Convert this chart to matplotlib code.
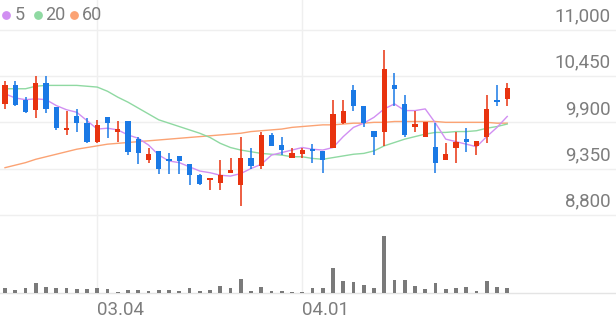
import numpy as np
import matplotlib.pyplot as plt
from matplotlib.lines import Line2D

# daily candles (won)
opens = [10120, 10340, 10170, 10050, 10370, 10080, 9810, 9970, 9890, 9660,
         9960, 9790, 9920, 9700, 9450, 9560, 9460, 9500, 9400, 9270,
         9210, 9180, 9300, 9150, 9480, 9380, 9750, 9630, 9480, 9520,
         9580, 9560, 9590, 9890, 10290, 10090, 9800, 9790, 10350, 10120,
         9850, 9720, 9610, 9450, 9590, 9700, 9620, 9720, 10170, 10180]
highs = [10390, 10390, 10200, 10450, 10450, 10080, 10040, 10060, 9950, 9930,
         9960, 9920, 9920, 9730, 9590, 9560, 9540, 9500, 9400, 9280,
         9240, 9450, 9470, 9730, 9590, 9790, 9770, 9720, 9590, 9600,
         9640, 9560, 10170, 10170, 10350, 10090, 9800, 10760, 10490, 10230,
         10040, 9900, 9890, 9650, 9790, 9830, 9650, 10230, 10340, 10370]
lows = [10060, 10100, 10010, 9950, 10010, 9810, 9750, 9790, 9650, 9650,
        9710, 9670, 9510, 9400, 9410, 9290, 9290, 9280, 9150, 9150,
        9090, 9090, 9300, 8900, 9350, 9340, 9620, 9510, 9480, 9480,
        9420, 9300, 9590, 9880, 10040, 9850, 9510, 9620, 10100, 9730,
        9790, 9720, 9300, 9450, 9420, 9550, 9510, 9650, 10090, 10090]
closes = [10340, 10110, 10020, 10370, 10060, 9830, 9820, 9890, 9660, 9870,
          9890, 9810, 9550, 9540, 9520, 9340, 9440, 9440, 9270, 9160,
          9230, 9270, 9330, 9470, 9380, 9750, 9620, 9570, 9530, 9570,
          9560, 9450, 10000, 10040, 10090, 9890, 9720, 10540, 10300, 9750,
          9870, 9900, 9420, 9520, 9670, 9670, 9680, 10060, 10140, 10310]
volumes = [53, 37, 53, 100, 60, 50, 50, 43, 43, 50,
           43, 10, 37, 37, 27, 33, 33, 27, 53, 27,
           33, 70, 50, 140, 20, 60, 27, 27, 13, 13,
           57, 50, 250, 127, 113, 83, 50, 577, 133, 133,
           73, 40, 100, 40, 57, 67, 27, 127, 67, 50]

ma5 = [10240, 10190, 10170, 10180, 10170, 10100, 10050, 10020, 9920, 9820,
       9830, 9810, 9750, 9710, 9630, 9510, 9440, 9420, 9370, 9320,
       9300, 9270, 9260, 9290, 9350, 9400, 9510, 9540, 9570, 9600,
       9580, 9570, 9600, 9730, 9840, 9890, 9960, 10060, 10120, 10040,
       10040, 10060, 9890, 9700, 9670, 9640, 9610, 9730, 9840, 9970]
ma20 = [10300, 10300, 10300, 10330, 10340, 10340, 10340, 10340, 10330, 10320,
        10270, 10200, 10140, 10070, 10000, 9930, 9890, 9850, 9810, 9770,
        9720, 9650, 9600, 9570, 9550, 9530, 9520, 9510, 9490, 9490,
        9470, 9460, 9480, 9500, 9520, 9530, 9560, 9620, 9660, 9700,
        9730, 9760, 9780, 9780, 9790, 9790, 9800, 9830, 9850, 9880]
ma60 = [9360, 9390, 9420, 9460, 9490, 9520, 9550, 9580, 9600, 9620,
        9640, 9650, 9660, 9670, 9680, 9690, 9700, 9710, 9720, 9730,
        9740, 9750, 9760, 9770, 9790, 9800, 9810, 9820, 9840, 9850,
        9860, 9870, 9870, 9880, 9890, 9890, 9900, 9900, 9910, 9910,
        9910, 9910, 9910, 9900, 9900, 9900, 9900, 9900, 9890, 9890]

price_ticks = [8800, 9350, 9900, 10450, 11000]
date_ticks = [9, 29]
date_labels = ['03.04', '04.01']

ma_names = ['5', '20', '60']
ma_colors = ['#d18ff2', '#8fd9a2', '#fba374']
up_color = '#e8330f'
down_color = '#1a79e5'
grid_color = '#efefef'
text_color = '#7d7d7d'

plt.rcParams['font.family'] = ['Roboto', 'DejaVu Sans']

W, H = 616, 321
fig = plt.figure(figsize=(W / 100, H / 100), dpi=100)
ax = fig.add_axes([0, 1 - 214.7 / H, 1, 214.7 / H])
axv = fig.add_axes([0, 1 - 293.3 / H, 1, (293.3 - 214.7) / H])

idx = np.arange(len(closes))
o = np.array(opens)
c = np.array(closes)
colors = [up_color if cc >= oo else down_color for oo, cc in zip(o, c)]

for a in (ax, axv):
    a.set_xlim(-0.488, 59.61)
    for s in a.spines.values():
        s.set_visible(False)
    a.set_xticks([])
    a.set_yticks([])
    a.patch.set_alpha(0)
    for d in date_ticks:
        a.axvline(d, color=grid_color, lw=1, zorder=0)

ax.set_ylim(8800, 11357)
for p in price_ticks:
    ax.axhline(p, color=grid_color, lw=1, zorder=0, clip_on=False)
    ax.annotate(f'{p:,}', xy=(1, p), xycoords=('axes fraction', 'data'),
                xytext=(-4, 9.7), textcoords='offset points',
                ha='right', va='center', fontsize=13.5, color=text_color)

# moving averages
for vals, col in zip([ma60, ma20, ma5], ma_colors[::-1]):
    ax.plot(idx, vals, color=col, lw=1.0, zorder=2)

# candles
ax.vlines(idx, lows, highs, colors=colors, lw=1.1, zorder=3)
body = np.maximum(np.abs(c - o), 25)
ax.bar(idx, body, bottom=np.minimum(o, c), width=0.5, color=colors, zorder=4)

# volume
axv.set_ylim(0, 786)
axv.bar(idx, volumes, width=0.38, color='#7a7a7a', zorder=2)
axv.axhline(0, color='#e4e4e4', lw=1, clip_on=False, zorder=1)
for d, lab in zip(date_ticks, date_labels):
    axv.annotate(lab, xy=(d, 0), xycoords=('data', 'axes fraction'),
                 xytext=(-0.5, -12.2), textcoords='offset points',
                 ha='left', va='center', fontsize=13.5, color=text_color)

# legend
dot_x = [6, 37.7, 74]
txt_x = [14.5, 45, 81.5]
for name, col, dx, tx in zip(ma_names, ma_colors, dot_x, txt_x):
    fig.add_artist(Line2D([dx / W], [1 - 15 / H], marker='o', markersize=5.3,
                          color=col, lw=0, transform=fig.transFigure))
    fig.text(tx / W, 1 - 15 / H, name, ha='left', va='center', fontsize=13,
             color=text_color)

fig.savefig('out.png', dpi=100)
